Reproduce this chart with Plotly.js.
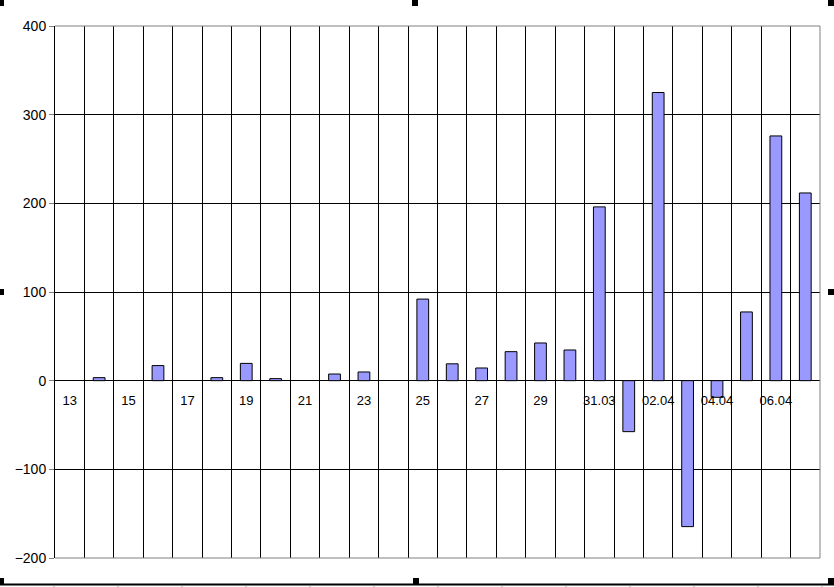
<!DOCTYPE html>
<html>
<head>
<meta charset="utf-8">
<script src="https://cdn.plot.ly/plotly-3.0.1.min.js"></script>
<style>html,body{margin:0;padding:0;background:#fff;}#chart{width:834px;height:587px;}</style>
</head>
<body>
<div id="chart"></div>
<script>
// Data (null = no value on that day)
const categories = ["13","14","15","16","17","18","19","20","21","22","23","24","25","26","27","28","29","30","31.03","01.04","02.04","03.04","04.04","05.04","06.04","07.04"];
const tickLabels = ["13","","15","","17","","19","","21","","23","","25","","27","","29","","31.03","","02.04","","04.04","","06.04",""];
const values = [null, 3.4, null, 17, null, 3.4, 19.5, 2.3, null, 7.5, 9.8, null, 92, 19, 14.3, 32.7, 42.5, 34.6, 196, -57.5, 325, -164.6, -18.8, 77.5, 276, 211.7];

// Layout geometry (pixels)
const W = 834, H = 587, L = 55, R = 14, T = 26, B = 29;
const pw = W - L - R, ph = H - T - B;
const px = x => (x - L) / pw;
const py = y => (H - B - y) / ph;

const shapes = [];
// gray plot-area border on top, bottom and right
shapes.push({type:'line', xref:'paper', yref:'paper', x0:0, x1:1, y0:1, y1:1, line:{color:'#808080', width:1}});
shapes.push({type:'line', xref:'paper', yref:'paper', x0:0, x1:1, y0:0, y1:0, line:{color:'#808080', width:1}});
shapes.push({type:'line', xref:'paper', yref:'paper', x0:1, x1:1, y0:0, y1:1, line:{color:'#808080', width:1}});
// bottom frame line with ruler ticks
shapes.push({type:'line', xref:'paper', yref:'paper', x0:px(0), x1:px(W), y0:py(584.5), y1:py(584.5), line:{color:'#000', width:2}});
for (let k = 0; k <= 12; k++) {
  const x = 54 + 64 * k;
  shapes.push({type:'line', xref:'paper', yref:'paper', x0:px(x), x1:px(x), y0:py(585.5), y1:py(587), line:{color:'#999', width:1}});
}
// selection handles
const handles = [[-2,0],[412,0],[828,0],[-2,289],[828,289],[-2,578],[413,578],[828,578]];
handles.forEach(([hx, hy]) => {
  shapes.push({type:'rect', xref:'paper', yref:'paper', x0:px(hx), x1:px(hx+6), y0:py(hy+6), y1:py(hy), fillcolor:'#000', line:{width:0}});
});

const trace = {
  type: 'bar',
  x: categories,
  y: values,
  width: 0.4,
  marker: {color: '#9999FF', line: {color: '#000', width: 1}},
  hoverinfo: 'x+y'
};

const layout = {
  width: W, height: H,
  margin: {l: L, r: R, t: T, b: B, pad: 0},
  paper_bgcolor: '#fff', plot_bgcolor: '#fff',
  showlegend: false,
  font: {family: 'Arial, "Liberation Sans", sans-serif', color: '#000', size: 13},
  xaxis: {
    type: 'category',
    categoryorder: 'array', categoryarray: categories,
    range: [-0.5, categories.length - 0.5],
    tickson: 'boundaries',
    tickmode: 'array', tickvals: categories, ticktext: tickLabels,
    tickangle: 0,
    ticks: '', ticklabelstandoff: 10,
    showgrid: true, gridcolor: '#000', gridwidth: 1,
    showline: false,
    anchor: 'free', position: 1/3,
    zeroline: false,
    tickfont: {size: 13}
  },
  yaxis: {
    range: [-200, 400],
    tickmode: 'linear', tick0: -200, dtick: 100,
    ticks: 'outside', ticklen: 5, tickcolor: '#808080',
    showgrid: true, gridcolor: '#000', gridwidth: 1,
    showline: true, linecolor: '#000', linewidth: 1,
    zeroline: false,
    tickfont: {size: 14}
  },
  shapes: shapes,
  bargap: 0.6
};

Plotly.newPlot('chart', [trace], layout, {displayModeBar: false, staticPlot: true});
</script>
</body>
</html>
